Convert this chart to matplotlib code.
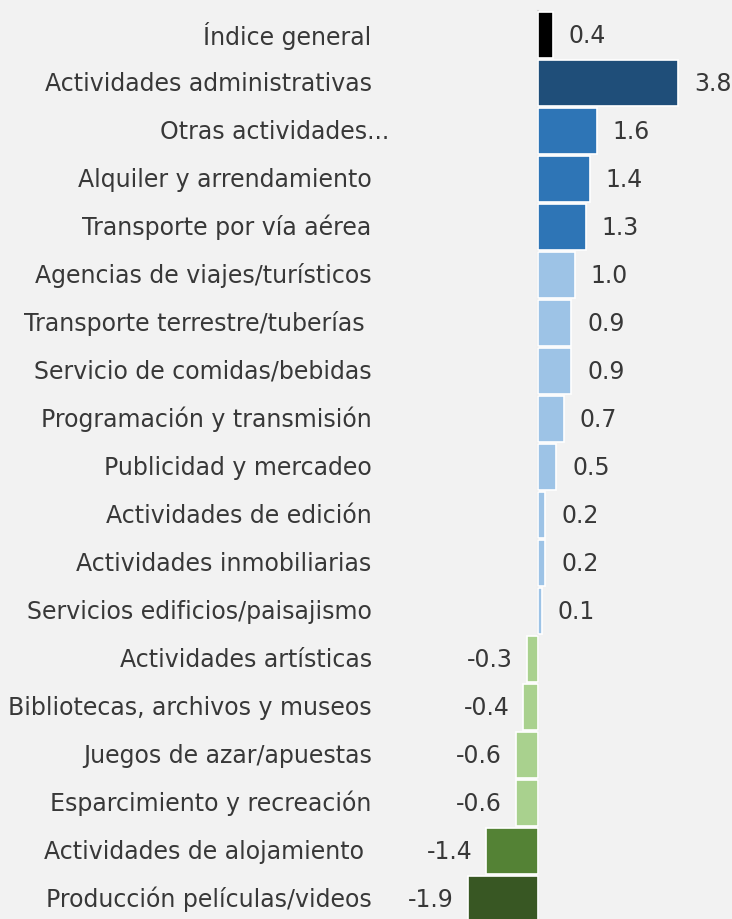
import numpy as np
import matplotlib.pyplot as plt

plt.rcParams['font.family'] = ['DejaVu Sans']

categories = [
    "Índice general",
    "Actividades administrativas",
    "Otras actividades...",
    "Alquiler y arrendamiento",
    "Transporte por vía aérea",
    "Agencias de viajes/turísticos",
    "Transporte terrestre/tuberías ",
    "Servicio de comidas/bebidas",
    "Programación y transmisión",
    "Publicidad y mercadeo",
    "Actividades de edición",
    "Actividades inmobiliarias",
    "Servicios edificios/paisajismo",
    "Actividades artísticas",
    "Bibliotecas, archivos y museos",
    "Juegos de azar/apuestas",
    "Esparcimiento y recreación",
    "Actividades de alojamiento ",
    "Producción películas/videos",
]
values = [0.4, 3.8, 1.6, 1.4, 1.3, 1.0, 0.9, 0.9, 0.7, 0.5,
          0.2, 0.2, 0.1, -0.3, -0.4, -0.6, -0.6, -1.4, -1.9]
colors = ["#000000", "#1f4e79", "#2e75b6", "#2e75b6", "#2e75b6",
          "#9dc3e6", "#9dc3e6", "#9dc3e6", "#9dc3e6", "#9dc3e6",
          "#9dc3e6", "#9dc3e6", "#9dc3e6",
          "#a9d18e", "#a9d18e", "#a9d18e", "#a9d18e",
          "#548235", "#385723"]

bg = "#f2f2f2"
txt = "#383838"
fs = 17

fig = plt.figure(figsize=(7.32, 9.19), dpi=100, facecolor=bg)
# axes spans x pixels 380..732, full height
ax = fig.add_axes([380 / 732, 0, 352 / 732, 1], facecolor=bg)

y = np.arange(len(categories))
ax.barh(y, values, height=0.97, color=colors, edgecolor="white", linewidth=1.2, zorder=3)
ax.plot([0, 0], [-0.5, len(categories)], color="#d4d4d4", lw=1.5, zorder=2)

scale = 36.8  # px per unit
ax.set_xlim((380 - 538) / scale, (732 - 538) / scale)
ax.set_ylim(18 + 20 / 48, -35 / 48)

for yi, v in zip(y, values):
    if v >= 0:
        ax.text(v + 16 / scale, yi - 0.04, f"{v:.1f}", ha="left", va="center_baseline",
                fontsize=fs, color=txt)
    else:
        ax.text(v - 14 / scale, yi - 0.04, f"{v:.1f}", ha="right", va="center_baseline",
                fontsize=fs, color=txt)

ax.set_yticks(y - 0.04)
ax.set_yticklabels(categories, fontsize=fs, color=txt, va="center_baseline")
ax.tick_params(axis="y", length=0, pad=6)
ax.set_xticks([])
for s in ax.spines.values():
    s.set_visible(False)

# the "Otras actividades..." label sits further right in the original
ax.get_yticklabels()[2].set_x(18 / 352)

fig.savefig("out.png", dpi=100, facecolor=bg)
